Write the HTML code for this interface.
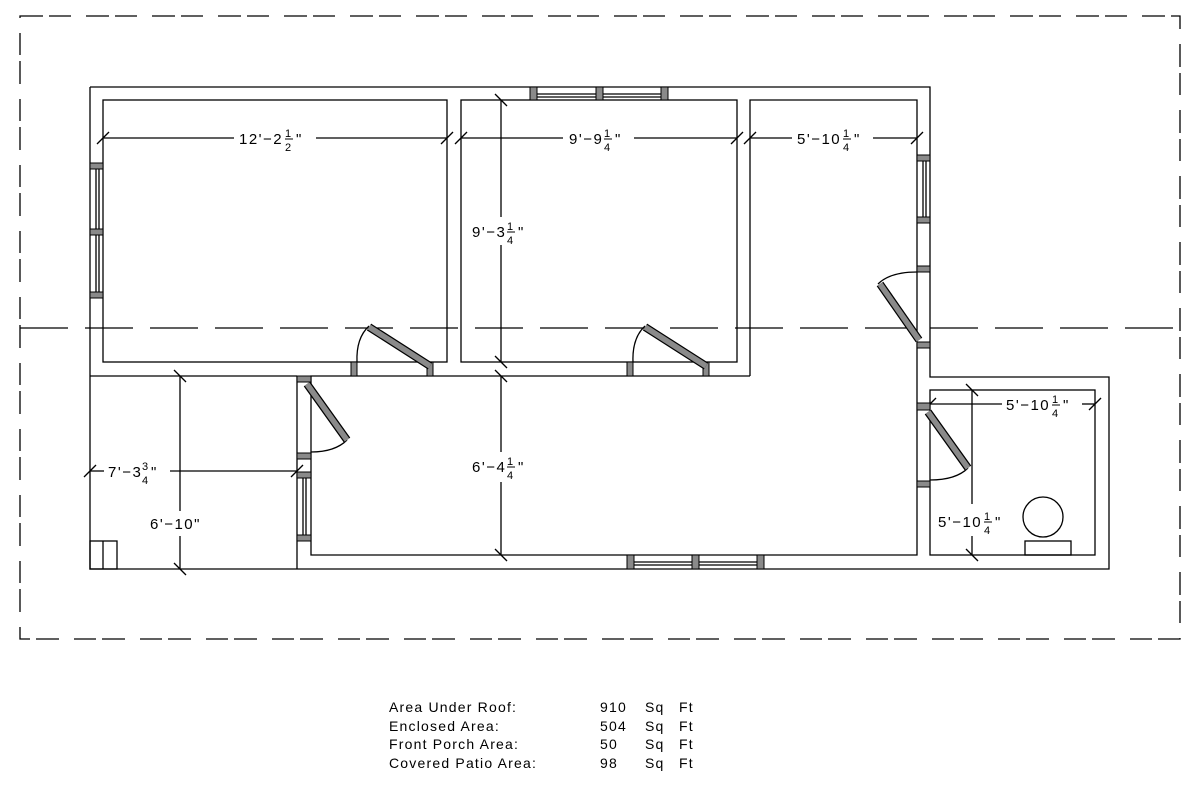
<!DOCTYPE html>
<html><head><meta charset="utf-8"><style>
html,body{margin:0;padding:0;background:#fff;}
svg{display:block}
text{font-family:"Liberation Sans",sans-serif;fill:#000;}
.t text{font-size:15px;letter-spacing:1.5px;}
.t text.f{font-size:11px;letter-spacing:0;}
.a{font-size:14px;letter-spacing:1.2px;}
</style></head><body>
<svg width="1200" height="788" viewBox="0 0 1200 788" xmlns="http://www.w3.org/2000/svg">
<g fill="none" stroke="#000" stroke-width="1.3">
<rect x="20" y="16" width="1160" height="623" stroke-dasharray="23 6 22 15"/>
<line x1="20" y1="328" x2="1180" y2="328" stroke-dasharray="48 17"/>
<polyline points="90,87 930,87 930,377 1109,377 1109,569 90,569 90,87"/>
<rect x="103" y="100" width="344" height="262"/>
<rect x="461" y="100" width="276" height="262"/>
<polyline points="750,376 750,100 917,100 917,555 311,555 311,376 750,376"/>
<line x1="90" y1="376" x2="297" y2="376"/>
<line x1="297" y1="376" x2="297" y2="569"/>
<rect x="930" y="390" width="165" height="165"/>
<rect x="90" y="541" width="27" height="28"/>
<line x1="103" y1="541" x2="103" y2="569"/>
<circle cx="1043" cy="517" r="20"/>
<rect x="1025" y="541" width="46" height="14"/>
<line x1="96" y1="163" x2="96" y2="297"/><line x1="99" y1="163" x2="99" y2="297"/>
<line x1="530" y1="94" x2="668" y2="94"/><line x1="530" y1="97" x2="668" y2="97"/>
<line x1="923" y1="157" x2="923" y2="222"/><line x1="926" y1="157" x2="926" y2="222"/>
<line x1="627" y1="562" x2="764" y2="562"/><line x1="627" y1="565" x2="764" y2="565"/>
<line x1="303" y1="474" x2="303" y2="541"/><line x1="306" y1="474" x2="306" y2="541"/>
<path d="M357,362 Q356,338 369,326"/>
<path d="M633,362 Q632,338 645,326"/>
<path d="M311,452 Q335,452 347,440"/>
<path d="M917,272 Q890,272 878,284"/>
<path d="M930,480 Q956,480 968,468"/>
<line x1="103" y1="138" x2="234" y2="138"/><line x1="316" y1="138" x2="447" y2="138"/>
<line x1="461" y1="138" x2="563" y2="138"/><line x1="634" y1="138" x2="737" y2="138"/>
<line x1="750" y1="138" x2="792" y2="138"/><line x1="873" y1="138" x2="917" y2="138"/>
<line x1="501" y1="100" x2="501" y2="217"/><line x1="501" y1="245" x2="501" y2="362"/>
<line x1="501" y1="376" x2="501" y2="452"/><line x1="501" y1="482" x2="501" y2="555"/>
<line x1="90" y1="471" x2="104" y2="471"/><line x1="170" y1="471" x2="297" y2="471"/>
<line x1="180" y1="376" x2="180" y2="511"/><line x1="180" y1="536" x2="180" y2="569"/>
<line x1="930" y1="404" x2="1002" y2="404"/><line x1="1082" y1="404" x2="1095" y2="404"/>
<line x1="972" y1="390" x2="972" y2="504"/><line x1="972" y1="536" x2="972" y2="555"/>
<g>
<line x1="97" y1="144" x2="109" y2="132"/><line x1="441" y1="144" x2="453" y2="132"/>
<line x1="455" y1="144" x2="467" y2="132"/><line x1="731" y1="144" x2="743" y2="132"/>
<line x1="744" y1="144" x2="756" y2="132"/><line x1="911" y1="144" x2="923" y2="132"/>
<line x1="495" y1="94" x2="507" y2="106"/><line x1="495" y1="356" x2="507" y2="368"/>
<line x1="495" y1="370" x2="507" y2="382"/><line x1="495" y1="549" x2="507" y2="561"/>
<line x1="84" y1="477" x2="96" y2="465"/><line x1="291" y1="477" x2="303" y2="465"/>
<line x1="174" y1="370" x2="186" y2="382"/><line x1="174" y1="563" x2="186" y2="575"/>
<line x1="924" y1="410" x2="936" y2="398"/><line x1="1089" y1="410" x2="1101" y2="398"/>
<line x1="966" y1="384" x2="978" y2="396"/><line x1="966" y1="549" x2="978" y2="561"/>
</g>
</g>
<g fill="#8a8a8a" stroke="#000" stroke-width="1">
<rect x="90" y="163" width="13" height="6"/><rect x="90" y="229" width="13" height="6"/><rect x="90" y="292" width="13" height="6"/>
<rect x="530" y="87" width="7" height="13"/><rect x="596" y="87" width="7" height="13"/><rect x="661" y="87" width="7" height="13"/>
<rect x="917" y="155" width="13" height="6"/><rect x="917" y="217" width="13" height="6"/>
<rect x="917" y="266" width="13" height="6"/><rect x="917" y="342" width="13" height="6"/>
<rect x="917" y="403" width="13" height="7"/><rect x="917" y="481" width="13" height="6"/>
<rect x="627" y="555" width="7" height="14"/><rect x="692" y="555" width="7" height="14"/><rect x="757" y="555" width="7" height="14"/>
<rect x="351" y="362" width="6" height="14"/><rect x="427" y="362" width="6" height="14"/>
<rect x="627" y="362" width="6" height="14"/><rect x="703" y="362" width="6" height="14"/>
<rect x="297" y="376" width="14" height="6"/><rect x="297" y="453" width="14" height="6"/>
<rect x="297" y="472" width="14" height="6"/><rect x="297" y="535" width="14" height="6"/>
</g>
<g stroke-linecap="butt">
<g stroke="#000" stroke-width="8">
<line x1="430" y1="366" x2="369" y2="327"/>
<line x1="706" y1="366" x2="645" y2="327"/>
<line x1="307" y1="384" x2="347" y2="440"/>
<line x1="919" y1="340" x2="880" y2="284"/>
<line x1="928" y1="412" x2="968" y2="468"/>
</g>
<g stroke="#8a8a8a" stroke-width="5.5">
<line x1="430" y1="366" x2="369" y2="327"/>
<line x1="706" y1="366" x2="645" y2="327"/>
<line x1="307" y1="384" x2="347" y2="440"/>
<line x1="919" y1="340" x2="880" y2="284"/>
<line x1="928" y1="412" x2="968" y2="468"/>
</g>
</g>
<g class="t" stroke-width="1">
<text x="239" y="144">12'−2</text><text class="f" x="285" y="137">1</text><line x1="285" y1="139" x2="293" y2="139" stroke="#000"/><text class="f" x="285" y="151">2</text><text x="296" y="144">"</text>
<text x="569" y="144">9'−9</text><text class="f" x="604" y="137">1</text><line x1="604" y1="139" x2="612" y2="139" stroke="#000"/><text class="f" x="604" y="151">4</text><text x="615" y="144">"</text>
<text x="797" y="144">5'−10</text><text class="f" x="843" y="137">1</text><line x1="843" y1="139" x2="851" y2="139" stroke="#000"/><text class="f" x="843" y="151">4</text><text x="854" y="144">"</text>
<text x="472" y="237">9'−3</text><text class="f" x="507" y="230">1</text><line x1="507" y1="232" x2="515" y2="232" stroke="#000"/><text class="f" x="507" y="244">4</text><text x="518" y="237">"</text>
<text x="472" y="472">6'−4</text><text class="f" x="507" y="465">1</text><line x1="507" y1="467" x2="515" y2="467" stroke="#000"/><text class="f" x="507" y="479">4</text><text x="518" y="472">"</text>
<text x="108" y="477">7'−3</text><text class="f" x="142" y="470">3</text><text class="f" x="142" y="484">4</text><text x="151" y="477">"</text>
<text x="150" y="529">6'−10"</text>
<text x="1006" y="410">5'−10</text><text class="f" x="1052" y="403">1</text><line x1="1052" y1="405" x2="1060" y2="405" stroke="#000"/><text class="f" x="1052" y="417">4</text><text x="1063" y="410">"</text>
<text x="938" y="527">5'−10</text><text class="f" x="984" y="520">1</text><line x1="984" y1="522" x2="992" y2="522" stroke="#000"/><text class="f" x="984" y="534">4</text><text x="995" y="527">"</text>
</g>
<g class="a">
<text x="389" y="712">Area Under Roof:</text><text x="600" y="712">910</text><text x="645" y="712">Sq</text><text x="679" y="712">Ft</text>
<text x="389" y="731">Enclosed Area:</text><text x="600" y="731">504</text><text x="645" y="731">Sq</text><text x="679" y="731">Ft</text>
<text x="389" y="749">Front Porch Area:</text><text x="600" y="749">50</text><text x="645" y="749">Sq</text><text x="679" y="749">Ft</text>
<text x="389" y="768">Covered Patio Area:</text><text x="600" y="768">98</text><text x="645" y="768">Sq</text><text x="679" y="768">Ft</text>
</g>
</svg>
</body></html>
